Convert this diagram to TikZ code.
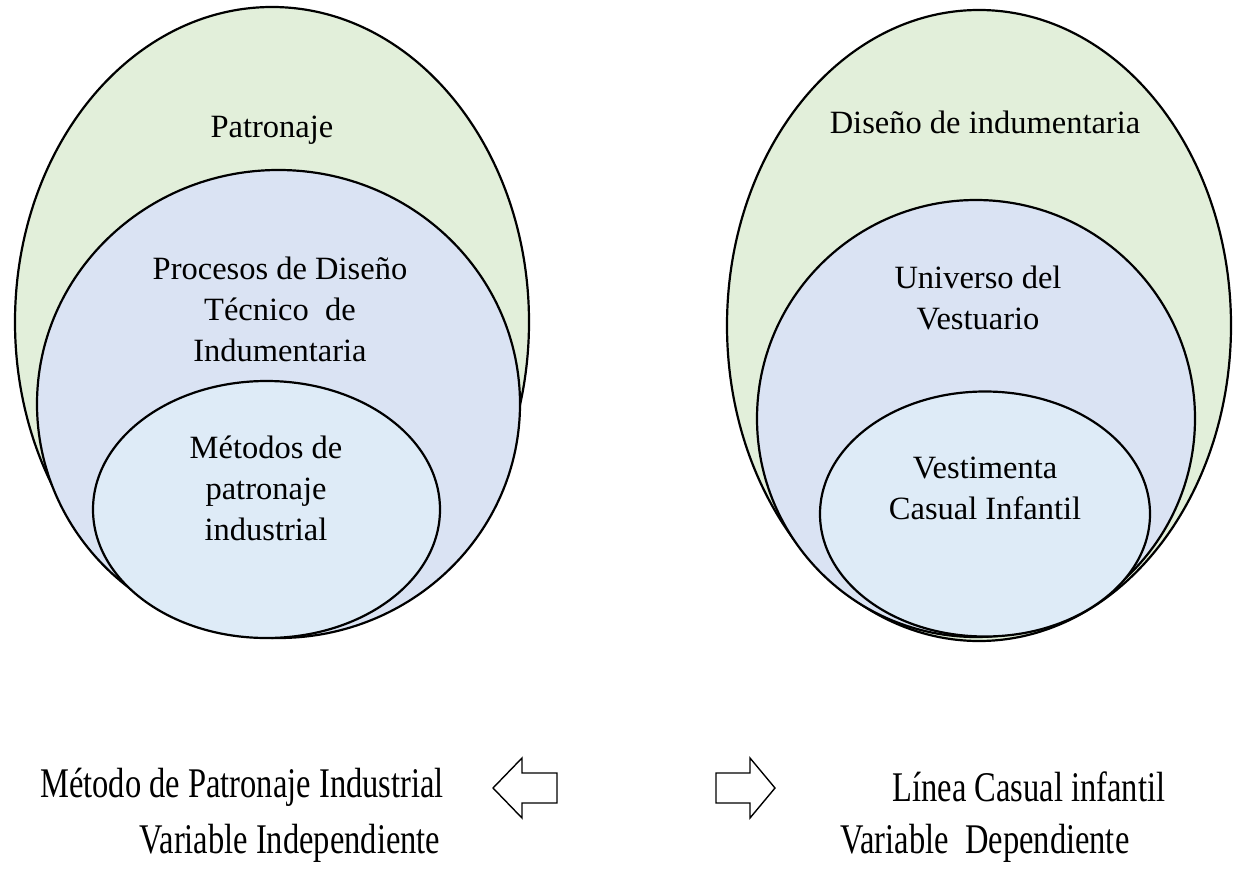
\documentclass[tikz,border=0pt]{standalone}
\usepackage{fontspec}
\setmainfont{Liberation Serif}
\usetikzlibrary{shapes.geometric}
\definecolor{outergreen}{HTML}{E2EFDA}
\definecolor{midblue}{HTML}{DAE3F3}
\definecolor{innerblue}{HTML}{DEEBF7}
\tikzset{
  set/.style={ellipse, draw=black, line width=2.2pt, inner sep=0pt},
  lbl/.style={align=center, font=\fontsize{32.5}{41}\selectfont, inner sep=0pt},
  tall/.style={font=\fontsize{32.5}{41}\selectfont, inner sep=0pt},
  hollowarrow/.style={draw=black, fill=white, line width=1.4pt, line join=miter}
}
\newcommand{\stretchtext}[1]{\scalebox{1}[1.3]{#1}}
\begin{document}
\begin{tikzpicture}[x=1pt,y=-1pt]
\useasboundingbox (0,0) rectangle (1233,869);

% left family of sets
\node[set, fill=outergreen, minimum width=514pt, minimum height=630pt] (louter) at (272,322) {};
\node[set, fill=midblue,   minimum width=483pt, minimum height=468pt] (lmid)   at (278.5,404) {};
\node[set, fill=innerblue, minimum width=347pt, minimum height=257pt] (linner) at (266.5,509.5) {};
\node[lbl] (tpat) at (272,130) {Patronaje};
\node[lbl] (tproc) at (280,309) {Procesos de Diseño\\Técnico~ de\\Indumentaria};
\node[lbl] (tmet) at (266,488) {Métodos de\\patronaje\\industrial};

% right family of sets
\node[set, fill=outergreen, minimum width=504pt, minimum height=631pt] (router) at (979,325.5) {};
\node[set, fill=midblue,   minimum width=438pt, minimum height=437pt] (rmid)   at (976,418.5) {};
\node[set, fill=innerblue, minimum width=330pt, minimum height=245pt] (rinner) at (985,514) {};
\node[lbl] (tdis) at (985,122) {Diseño de indumentaria};
\node[lbl] (tuni) at (978,298) {Universo del\\Vestuario};
\node[lbl] (tves) at (985,488) {Vestimenta\\Casual Infantil};

% variables
\node[tall] (vind1) at (242,787) {\stretchtext{Método de Patronaje Industrial}};
\node[tall] (vind2) at (290,843) {\stretchtext{Variable Independiente}};
\node[tall] (vdep1) at (1029,787) {\stretchtext{Línea Casual infantil}};
\node[tall] (vdep2) at (985,843) {\stretchtext{Variable~ Dependiente}};

% hollow block arrows
\coordinate (la) at (493,788);
\coordinate (ra) at (775,788);
\draw[hollowarrow] (la) -- ++(29,-30) -- ++(0,15) -- ++(35,0) -- ++(0,30) -- ++(-35,0) -- ++(0,15) -- cycle;
\draw[hollowarrow] (ra) -- ++(-25,-30) -- ++(0,15) -- ++(-34,0) -- ++(0,30) -- ++(34,0) -- ++(0,15) -- cycle;
\end{tikzpicture}
\end{document}
